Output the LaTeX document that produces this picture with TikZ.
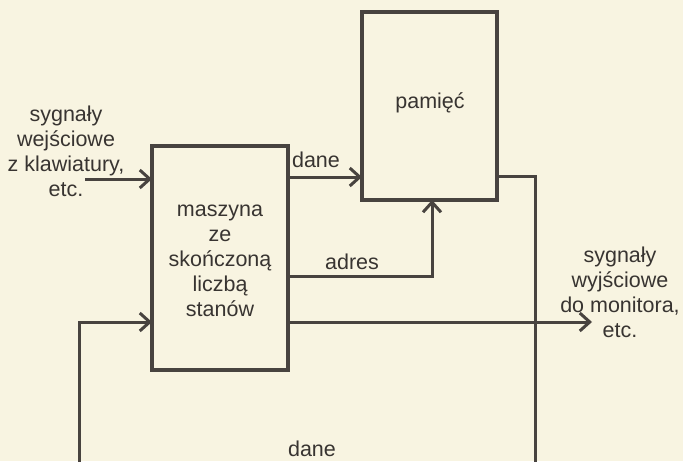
\documentclass[tikz,border=0pt]{standalone}
\usepackage{fontspec}
\setmainfont{Liberation Sans}
\usetikzlibrary{arrows.meta}
\definecolor{paper}{HTML}{F8F4E1}
\definecolor{ink}{HTML}{48433F}
\definecolor{txt}{HTML}{383431}
\tikzset{
  blockbox/.style={draw=ink, line width=3.2pt, rectangle, inner sep=0pt, outer sep=0pt},
  wire/.style={draw=ink, line width=3pt},
  arr/.style={wire, -{Straight Barb[length=10pt,width=18pt,line width=3pt]}},
  lbl/.style={text=txt, font=\fontsize{21.5}{25}\selectfont, align=center, inner sep=0pt},
}
\begin{document}
\begin{tikzpicture}[x=1pt,y=-1pt]
  \fill[paper] (0,0) rectangle (683,461);
  \useasboundingbox (0,0) rectangle (683,461);
  \clip (0,0) rectangle (683,461);

  % blocks
  \node[blockbox, minimum width=136pt, minimum height=224pt] (fsm) at (220,258) {};
  \node[lbl] at (220,261) {maszyna\\ze\\skończoną\\liczbą\\stanów};
  \node[blockbox, minimum width=135pt, minimum height=188pt] (mem) at (429.5,106) {};
  \node[lbl] (memt) at (430,103) {pamięć};

  % helper points
  \coordinate (in)   at (85,179);
  \coordinate (dy)   at (0,177);
  \coordinate (ay)   at (0,276);
  \coordinate (acol) at (432,0);
  \coordinate (oy)   at (0,176);
  \coordinate (ocol) at (535,0);
  \coordinate (bot)  at (0,475);
  \coordinate (fcol) at (79,0);
  \coordinate (fy)   at (0,322);
  \coordinate (out)  at (592,322);

  % input from keyboard
  \draw[arr] (in) -- (in -| fsm.west);
  % data to memory
  \draw[arr] (dy -| fsm.east) -- (dy -| mem.west);
  % address to memory
  \draw[arr] (ay -| fsm.east) -- (ay -| acol) -- (acol |- mem.south);
  % output to monitor
  \draw[arr] (fy -| fsm.east) -- (out);
  % data back from memory
  \draw[arr] (oy -| mem.east) -- (oy -| ocol) -- (ocol |- bot) -- (fcol |- bot) -- (fcol |- fy) -- (fy -| fsm.west);

  % labels
  \node[lbl] (inl) at (66,151) {sygnały\\wejściowe\\z klawiatury,\\etc.};
  \node[lbl] (outl) at (620,292) {sygnały\\wyjściowe\\do monitora,\\etc.};
  \node[lbl] (dane1) at (316,160) {dane};
  \node[lbl] (adr) at (352,262) {adres};
  \node[lbl] (dane2) at (312,449) {dane};
\end{tikzpicture}
\end{document}
